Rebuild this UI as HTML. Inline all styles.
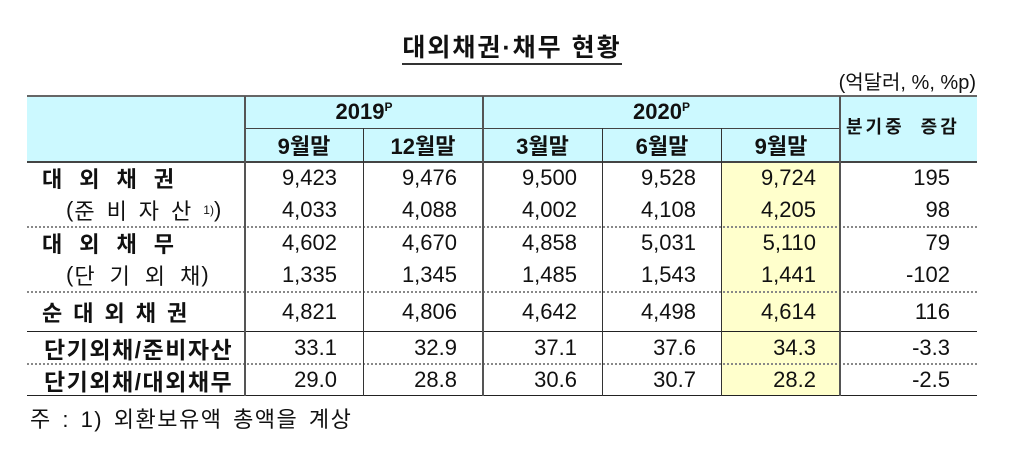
<!DOCTYPE html>
<html><head><meta charset="utf-8"><style>
body{margin:0;width:1024px;height:461px;background:#fff;position:relative;overflow:hidden;font-family:"Liberation Sans","Noto Sans CJK KR","NanumGothic",sans-serif;color:#111}
.a{position:absolute}
.t{position:absolute;display:flex;align-items:center;font-size:22px;white-space:nowrap}
.r{justify-content:flex-end}
.c{justify-content:center}
.b{font-weight:bold}
.hl{position:absolute;height:0}
.vl{position:absolute;width:0}
</style></head><body>
<div class="a b" style="left:0;width:1024px;top:28px;text-align:center;font-size:25px;letter-spacing:2px"><span style="border-bottom:2px solid #333;padding-bottom:1px">대외채권·채무 현황</span></div>
<div class="a" style="right:48px;top:66px;font-size:20px">(억달러, %, %p)</div>

<div class="a" style="left:27px;top:96px;width:950px;height:66px;background:#ccf9ff"></div>
<div class="a" style="left:722px;top:162px;width:118px;height:234px;background:#ffffcc"></div>

<div class="hl" style="left:27px;top:95px;width:950px;border-top:2px solid #666"></div>
<div class="hl" style="left:245px;top:128px;width:595px;border-top:1px solid #444"></div>
<div class="hl" style="left:27px;top:161px;width:950px;border-top:2px solid #444"></div>
<div class="hl" style="left:27px;top:226px;width:950px;border-top:2px dotted #888"></div>
<div class="hl" style="left:27px;top:291px;width:950px;border-top:2px dotted #888"></div>
<div class="hl" style="left:27px;top:331px;width:950px;border-top:1px solid #222"></div>
<div class="hl" style="left:27px;top:363px;width:950px;border-top:2px dotted #888"></div>
<div class="hl" style="left:27px;top:395px;width:950px;border-top:1.5px solid #222"></div>

<div class="vl" style="left:244px;top:96px;height:300px;border-left:2px solid #555"></div>
<div class="vl" style="left:363px;top:128px;height:268px;border-left:1px solid #333"></div>
<div class="vl" style="left:482px;top:96px;height:300px;border-left:2px solid #555"></div>
<div class="vl" style="left:602px;top:128px;height:268px;border-left:1px solid #333"></div>
<div class="vl" style="left:721px;top:128px;height:268px;border-left:1px solid #333"></div>
<div class="vl" style="left:839px;top:96px;height:300px;border-left:2px solid #555"></div>

<div class="t c b" style="left:245px;width:238px;top:96px;height:32px">2019<sup style="font-size:12px;align-self:flex-start;margin-top:4px">P</sup></div>
<div class="t c b" style="left:483px;width:357px;top:96px;height:32px">2020<sup style="font-size:12px;align-self:flex-start;margin-top:4px">P</sup></div>
<div class="t b" style="left:846px;top:110px;height:32px;font-size:18px;letter-spacing:3px">분기중 &nbsp;증감</div>
<div class="t c b" style="left:245px;width:118px;top:128px;height:34px">9월말</div>
<div class="t c b" style="left:363px;width:120px;top:128px;height:34px">12월말</div>
<div class="t c b" style="left:483px;width:119px;top:128px;height:34px">3월말</div>
<div class="t c b" style="left:602px;width:120px;top:128px;height:34px">6월말</div>
<div class="t c b" style="left:722px;width:118px;top:128px;height:34px">9월말</div>

<div class="t b" style="left:42px;top:162px;height:32px;letter-spacing:17px">대외채권</div>
<div class="t" style="left:66px;top:194px;height:32px;letter-spacing:12px"><span style="letter-spacing:1px">(</span>준비자산<sup style="font-size:12px;letter-spacing:0">1)</sup>)</div>
<div class="t b" style="left:42px;top:227px;height:32px;letter-spacing:17px">대외채무</div>
<div class="t" style="left:66px;top:259px;height:32px;letter-spacing:15px"><span style="letter-spacing:1px">(</span>단기외<span style="letter-spacing:1px">채</span>)</div>
<div class="t b" style="left:42px;top:292px;height:39px;letter-spacing:11px">순대외채권</div>
<div class="t b" style="left:44px;top:331px;height:33px;letter-spacing:1.5px;font-size:23px">단기외채/준비자산</div>
<div class="t b" style="left:44px;top:364px;height:32px;letter-spacing:1.5px;font-size:23px">단기외채/대외채무</div>

<div id="d"></div>
<script>
var rows=[[162,32,["9,423","9,476","9,500","9,528","9,724","195"]],[194,32,["4,033","4,088","4,002","4,108","4,205","98"]],[227,32,["4,602","4,670","4,858","5,031","5,110","79"]],[259,32,["1,335","1,345","1,485","1,543","1,441","-102"]],[292,39,["4,821","4,806","4,642","4,498","4,614","116"]],[331,33,["33.1","32.9","37.1","37.6","34.3","-3.3"]],[364,32,["29.0","28.8","30.6","30.7","28.2","-2.5"]]];
var rights=[337,457,577,696,816,950];var h="";
rows.forEach(function(r){r[2].forEach(function(v,i){h+='<div class="t r" style="left:'+(rights[i]-110)+'px;width:110px;top:'+r[0]+'px;height:'+r[1]+'px">'+v+'</div>';});});
document.getElementById("d").innerHTML=h;
</script>
<div class="a" style="left:30px;top:402px;font-size:22px;letter-spacing:1.5px;word-spacing:3px">주 : 1) 외환보유액 총액을 계상</div>
</body></html>
